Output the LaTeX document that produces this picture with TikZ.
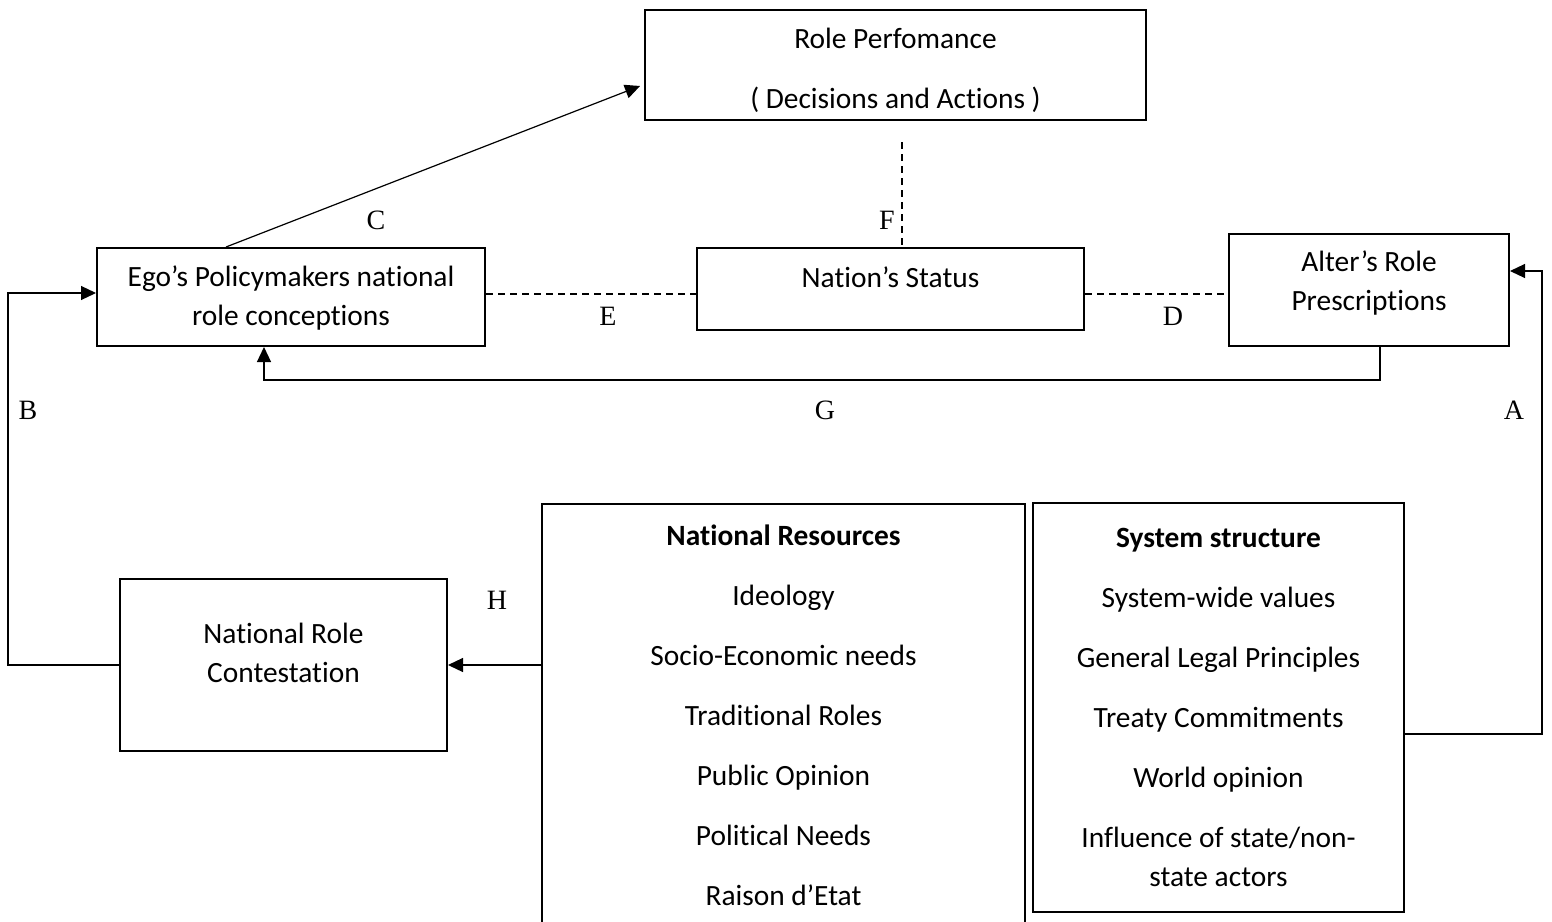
\documentclass[tikz,border=0pt]{standalone}
\usepackage{fontspec}
\setmainfont[Ligatures=NoCommon]{Carlito}
\newfontfamily\letterfont{Liberation Serif}
\usetikzlibrary{arrows.meta,calc}

\begin{document}
\begin{tikzpicture}[x=0.5pt,y=-0.5pt,
  box/.style={draw,line width=1pt,inner sep=0pt,align=center,
    font=\fontsize{14.7}{19.5}\selectfont},
  listbox/.style={box,font=\fontsize{14.7}{30}\selectfont},
  link/.style={line width=0.6pt},
  arrowlink/.style={link,-{Triangle[length=7.5pt,width=7pt]}},
  dashlink/.style={link,dash pattern=on 3.5pt off 2.5pt},
  lbl/.style={font=\letterfont\fontsize{14}{14}\selectfont,inner sep=0pt}]
  \useasboundingbox (0,0) rectangle (1552,921);

  % boxes
  \node[listbox,minimum width=250.5pt,text height=49pt,text depth=6pt] (role) at (895.5,65)
    {Role Perfomance\\( Decisions and Actions )};
  \node[box,minimum width=194pt,text height=38.5pt,text depth=10.5pt] (ego) at (291,297)
    {Ego’s Policymakers national\\role conceptions};
  \node[box,minimum width=193.5pt,text height=19.5pt,text depth=21.5pt] (status) at (890.5,289)
    {Nation’s Status};
  \node[box,minimum width=140pt,text height=38pt,text depth=18pt] (alter) at (1369,290)
    {Alter’s Role\\Prescriptions};
  \node[box,minimum width=163.5pt,text height=51.5pt,text depth=34.5pt] (nrc) at (283.5,665)
    {National Role\\Contestation};
  \node[listbox,minimum width=241.5pt,minimum height=211pt] (natres) at (783.5,715)
    {\textbf{National Resources}\\Ideology\\Socio-Economic needs\\Traditional Roles\\
     Public Opinion\\Political Needs\\Raison d’Etat};
  \node[listbox,minimum width=185.5pt,minimum height=204.5pt] (system) at (1218.5,707.5)
    {\textbf{System structure}\\System-wide values\\General Legal Principles\\
     Treaty Commitments\\World opinion\\Influence of state/non-\\[-10.5pt]state actors};

  % routing points
  \coordinate (ftop) at (902,142);
  \coordinate (dline) at (0,294);
  \coordinate (grail) at (1380,380);
  \coordinate (gend) at (264,380);
  \coordinate (bcorner) at (8,293);
  \coordinate (acorner) at (1542,734);
  \coordinate (atop) at (1542,271);

  % connectors
  \draw[arrowlink] ($(ego.north west)+(130,0)$) -- ($(role.south west)+(-4,-35)$);
  \draw[dashlink] (ftop) -- (ftop |- status.north);
  \draw[dashlink] (ego.east |- dline) -- (status.west |- dline);
  \draw[dashlink] (status.east |- dline) -- (alter.west |- dline);
  \draw[arrowlink] (grail |- alter.south) -- (grail) -- (gend) -- (gend |- ego.south);
  \draw[arrowlink] (nrc.west) -- (nrc.west -| bcorner) -- (bcorner) -- (bcorner -| ego.west);
  \draw[arrowlink] (nrc.east -| natres.west) -- (nrc.east);
  \draw[arrowlink] (system.east |- acorner) -- (acorner) -- (atop) -- (atop -| alter.east);

  % letters
  \node[lbl] (lblA) at (1514,410) {A};
  \node[lbl] (lblB) at (28,410) {B};
  \node[lbl] (lblC) at (376,220) {C};
  \node[lbl] (lblD) at (1173,316) {D};
  \node[lbl] (lblE) at (608,316) {E};
  \node[lbl] (lblF) at (887,220) {F};
  \node[lbl] (lblG) at (825,410) {G};
  \node[lbl] (lblH) at (497,600) {H};
\end{tikzpicture}
\end{document}
